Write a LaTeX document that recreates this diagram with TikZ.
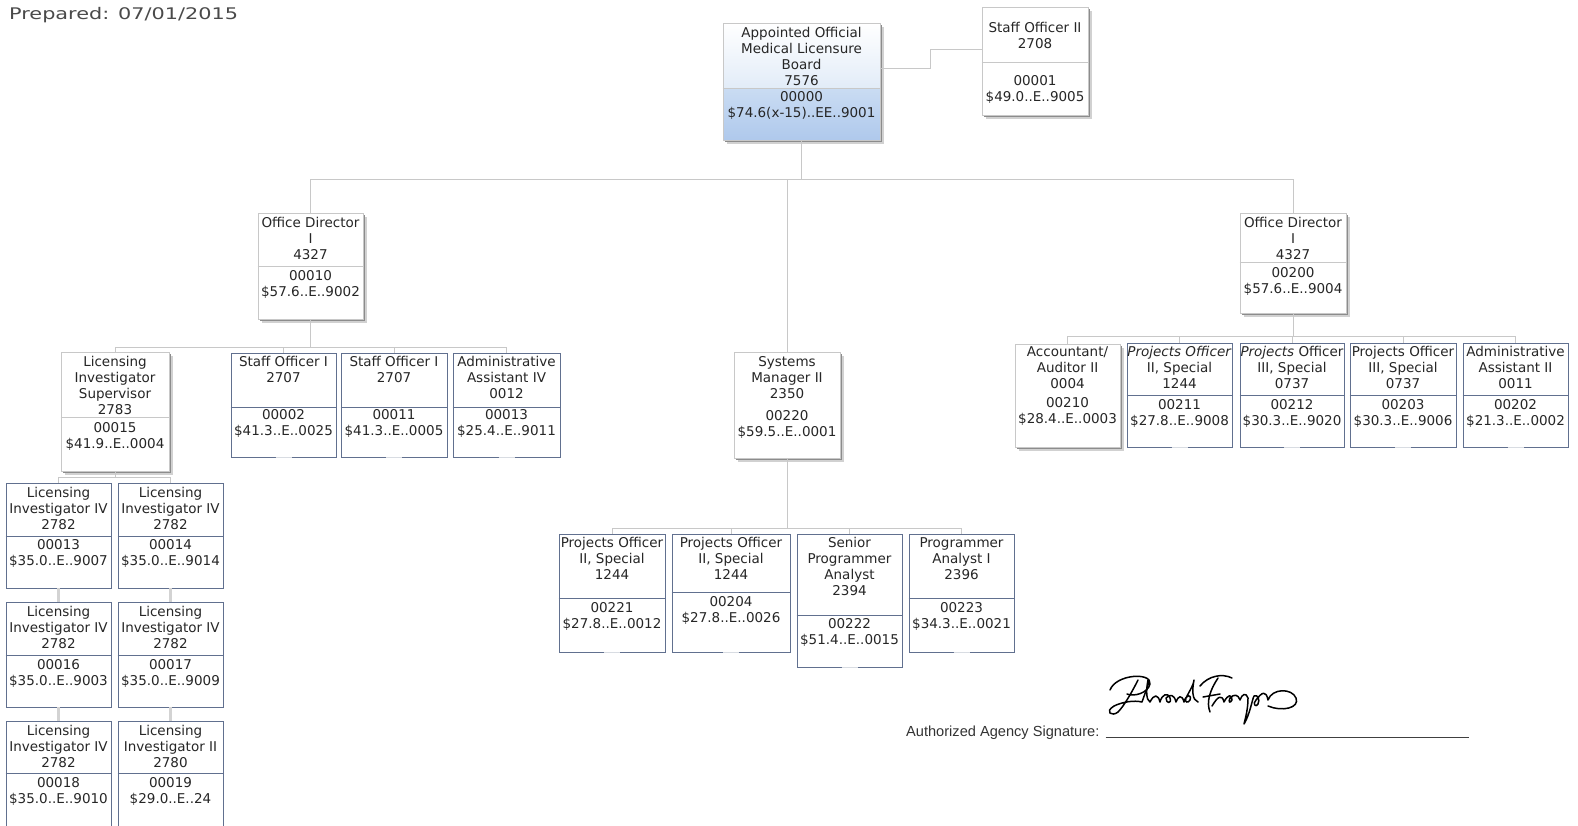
\documentclass[tikz,border=0pt]{standalone}
\usepackage{fontspec}
\setmainfont{DejaVu Sans}
\newfontfamily\sigfont{Liberation Sans}
\usepackage{graphicx}
\usetikzlibrary{calc}
\definecolor{leafc}{HTML}{61708F}
\definecolor{lineg}{HTML}{C8C8C8}
\definecolor{stubc}{HTML}{D8DCE2}
\definecolor{txtc}{HTML}{262626}
\definecolor{prepc}{HTML}{4A4A4A}
\definecolor{blueA}{HTML}{E2ECF8}
\definecolor{blueB}{HTML}{CADCF3}
\definecolor{blueC}{HTML}{AFC9EC}
\tikzset{
  conn/.style={draw=lineg, line width=1pt},
  rowc/.style={draw=lineg!80, line width=3.5pt},
  leaf/.style={draw=leafc, line width=0.9pt, fill=white, inner sep=0pt, rectangle},
  sbox/.style={draw=lineg, line width=0.9pt, fill=white, inner sep=0pt, rectangle},
  tbox/.style={draw=lineg, line width=0.9pt, inner sep=0pt, rectangle},
  divleaf/.style={draw=leafc, line width=0.9pt},
  divs/.style={draw=lineg, line width=0.9pt},
  stubst/.style={draw=stubc, line width=1.8pt},
  txt/.style={font=\fontsize{13.5}{15.8}\selectfont, align=center, inner sep=0pt, text=txtc},
  signpen/.style={draw=black, line width=1.5pt, line cap=round, line join=round}
}
\newcommand\mkbox[6]{%
  \pgfmathsetmacro\bcx{(#3+#5)/2}\pgfmathsetmacro\bcy{(#4+#6)/2}%
  \pgfmathsetmacro\bw{#5-#3}\pgfmathsetmacro\bh{#6-#4}%
  \node[#1,minimum width=\bw pt,minimum height=\bh pt] (#2) at (\bcx,\bcy) {};}
\newcommand\mkshadow[4]{%
  \fill[black!18] (#1+3.5,#2+3.5) rectangle (#3+3.5,#4+3.5);
  \fill[black!45] (#1+2,#2+2) rectangle (#3+2,#4+2);}
\newcommand\dvd[3]{\draw[#1] (#2.west |- 0,#3) -- (#2.east |- 0,#3);}
\newcommand\ttx[3]{\pgfmathsetmacro\tty{#2-6.3}\node[txt,anchor=north] (#1-t) at (#1.center |- 0,\tty) {\strut #3};}
\newcommand\btx[3]{\pgfmathsetmacro\tty{#2-6.3}\node[txt,anchor=north] (#1-b) at (#1.center |- 0,\tty) {\strut #3};}
\newcommand\stub[1]{\draw[stubst] ([xshift=-8pt]#1.south) -- ([xshift=8pt]#1.south);}
\begin{document}
\begin{tikzpicture}[x=1pt,y=-1pt]
\useasboundingbox (0,0) rectangle (1578,825);
\clip (0,0) rectangle (1578,825);
\fill[white] (0,0) rectangle (1578,825);

% ---------- boxes ----------
\mkshadow{723}{23}{880}{140}
\shade[top color=white, bottom color=blueA] (723,23) rectangle (880,88);
\shade[top color=blueB, bottom color=blueC] (723,88) rectangle (880,140);
\mkbox{tbox}{top}{723}{23}{880}{140}
\dvd{divs}{top}{88}
\ttx{top}{33}{Appointed Official\\Medical Licensure\\Board\\7576}
\btx{top}{97}{00000\\\$74.6(x-15)..EE..9001}

\mkshadow{982}{7}{1088}{115}
\mkbox{sbox}{so2}{982}{7}{1088}{115}
\dvd{divs}{so2}{62}
\ttx{so2}{28}{Staff Officer II\\2708}
\btx{so2}{81}{00001\\\$49.0..E..9005}

\mkshadow{258}{213}{363}{319}
\mkbox{sbox}{odl}{258}{213}{363}{319}
\dvd{divs}{odl}{266}
\ttx{odl}{223}{Office Director\\I\\4327}
\btx{odl}{276}{00010\\\$57.6..E..9002}

\mkshadow{1240}{213}{1346}{313}
\mkbox{sbox}{odr}{1240}{213}{1346}{313}
\dvd{divs}{odr}{262}
\ttx{odr}{223}{Office Director\\I\\4327}
\btx{odr}{273}{00200\\\$57.6..E..9004}

\mkshadow{61}{352}{169}{471}
\mkbox{sbox}{lis}{61}{352}{169}{471}
\dvd{divs}{lis}{417}
\ttx{lis}{362}{Licensing\\Investigator\\Supervisor\\2783}
\btx{lis}{428}{00015\\\$41.9..E..0004}

\mkshadow{734}{352}{840}{458}
\mkbox{sbox}{sm}{734}{352}{840}{458}
\ttx{sm}{362}{Systems\\Manager II\\2350}
\btx{sm}{416}{00220\\\$59.5..E..0001}

\mkshadow{1015}{344}{1120}{447}
\mkbox{sbox}{acc}{1015}{344}{1120}{447}
\ttx{acc}{352}{Accountant/\\Auditor II\\0004}
\btx{acc}{403}{00210\\\$28.4..E..0003}

% ---------- connectors ----------
\coordinate (b1) at (0,179);
\draw[conn] (top.south) -- (top.south |- b1);
\draw[conn] (odl.north) -- (odl.north |- b1) -- (odr.north |- b1) -- (odr.north);
\draw[conn] (sm.north) -- (sm.north |- b1);
\draw[conn] (top.east |- 0,68) -| (930,49) -- (so2.west |- 0,49);

\coordinate (b2) at (0,347);
\coordinate (b3) at (0,477);
\coordinate (b4) at (0,528);
\coordinate (b5) at (0,336);

% leaf boxes
\mkbox{leaf}{so1a}{231}{353}{336}{457}
\mkbox{leaf}{so1b}{341}{353}{447}{457}
\mkbox{leaf}{adm4}{453}{353}{560}{457}
\mkbox{leaf}{li1}{6}{483}{111}{588}
\mkbox{leaf}{li2}{118}{483}{223}{588}
\mkbox{leaf}{li3}{6}{602}{111}{707}
\mkbox{leaf}{li4}{118}{602}{223}{707}
\mkbox{leaf}{li5}{6}{721}{111}{826}
\mkbox{leaf}{li6}{118}{721}{223}{826}
\mkbox{leaf}{po1}{559}{534}{665}{652}
\mkbox{leaf}{po2}{672}{534}{790}{652}
\mkbox{leaf}{spa}{797}{534}{902}{667}
\mkbox{leaf}{pa1}{909}{534}{1014}{652}
\mkbox{leaf}{po3}{1127}{343}{1232}{447}
\mkbox{leaf}{po4}{1240}{343}{1344}{447}
\mkbox{leaf}{po5}{1350}{343}{1456}{447}
\mkbox{leaf}{adm2}{1463}{343}{1568}{447}

\draw[conn] (odl.south) -- (odl.south |- b2);
\draw[conn] (lis.north) -- (lis.north |- b2) -- (adm4.north |- b2) -- (adm4.north);
\draw[conn] (so1a.north) -- (so1a.north |- b2);
\draw[conn] (so1b.north) -- (so1b.north |- b2);

\draw[conn] (lis.south) -- (lis.south |- b3);
\draw[conn] (li1.north) -- (li1.north |- b3) -- (li2.north |- b3) -- (li2.north);
\draw[rowc] (li1.south) -- (li3.north);
\draw[rowc] (li2.south) -- (li4.north);
\draw[rowc] (li3.south) -- (li5.north);
\draw[rowc] (li4.south) -- (li6.north);

\draw[conn] (sm.south) -- (sm.south |- b4);
\draw[conn] (po1.north) -- (po1.north |- b4) -- (pa1.north |- b4) -- (pa1.north);
\draw[conn] (po2.north) -- (po2.north |- b4);
\draw[conn] (spa.north) -- (spa.north |- b4);

\draw[conn] (odr.south) -- (odr.south |- b5);
\draw[conn] (acc.north) -- (acc.north |- b5) -- (adm2.north |- b5) -- (adm2.north);
\draw[conn] (po3.north) -- (po3.north |- b5);
\draw[conn] (po4.north) -- (po4.north |- b5);
\draw[conn] (po5.north) -- (po5.north |- b5);

% dividers, stubs and texts of leaf boxes
\dvd{divleaf}{so1a}{407}\dvd{divleaf}{so1b}{407}\dvd{divleaf}{adm4}{407}
\dvd{divleaf}{li1}{536}\dvd{divleaf}{li2}{536}
\dvd{divleaf}{li3}{655}\dvd{divleaf}{li4}{655}
\dvd{divleaf}{li5}{773}\dvd{divleaf}{li6}{773}
\dvd{divleaf}{po1}{598}\dvd{divleaf}{po2}{592}\dvd{divleaf}{spa}{615}\dvd{divleaf}{pa1}{598}
\dvd{divleaf}{po3}{395}\dvd{divleaf}{po4}{395}\dvd{divleaf}{po5}{395}\dvd{divleaf}{adm2}{395}
\stub{so1a}\stub{so1b}\stub{adm4}\stub{po1}\stub{po2}\stub{spa}\stub{pa1}
\stub{po3}\stub{po4}\stub{po5}\stub{adm2}

\ttx{so1a}{362}{Staff Officer I\\2707}
\btx{so1a}{415}{00002\\\$41.3..E..0025}
\ttx{so1b}{362}{Staff Officer I\\2707}
\btx{so1b}{415}{00011\\\$41.3..E..0005}
\ttx{adm4}{362}{Administrative\\Assistant IV\\0012}
\btx{adm4}{415}{00013\\\$25.4..E..9011}

\ttx{li1}{493}{Licensing\\Investigator IV\\2782}
\btx{li1}{545}{00013\\\$35.0..E..9007}
\ttx{li2}{493}{Licensing\\Investigator IV\\2782}
\btx{li2}{545}{00014\\\$35.0..E..9014}
\ttx{li3}{612}{Licensing\\Investigator IV\\2782}
\btx{li3}{665}{00016\\\$35.0..E..9003}
\ttx{li4}{612}{Licensing\\Investigator IV\\2782}
\btx{li4}{665}{00017\\\$35.0..E..9009}
\ttx{li5}{731}{Licensing\\Investigator IV\\2782}
\btx{li5}{783}{00018\\\$35.0..E..9010}
\ttx{li6}{731}{Licensing\\Investigator II\\2780}
\btx{li6}{783}{00019\\\$29.0..E..24}

\ttx{po1}{543}{Projects Officer\\II, Special\\1244}
\btx{po1}{608}{00221\\\$27.8..E..0012}
\ttx{po2}{543}{Projects Officer\\II, Special\\1244}
\btx{po2}{602}{00204\\\$27.8..E..0026}
\ttx{spa}{543}{Senior\\Programmer\\Analyst\\2394}
\btx{spa}{624}{00222\\\$51.4..E..0015}
\ttx{pa1}{543}{Programmer\\Analyst I\\2396}
\btx{pa1}{608}{00223\\\$34.3..E..0021}

\ttx{po3}{352}{\textit{Projects Officer}\\II, Special\\1244}
\btx{po3}{405}{00211\\\$27.8..E..9008}
\ttx{po4}{352}{\textit{Projects} Officer\\III, Special\\0737}
\btx{po4}{405}{00212\\\$30.3..E..9020}
\ttx{po5}{352}{Projects Officer\\III, Special\\0737}
\btx{po5}{405}{00203\\\$30.3..E..9006}
\ttx{adm2}{352}{Administrative\\Assistant II\\0011}
\btx{adm2}{405}{00202\\\$21.3..E..0002}

% ---------- header ----------
\node[anchor=base west, inner sep=0pt, text=prepc, font=\fontsize{16}{19}\selectfont] (prep) at (9,19.8) {\scalebox{1.3}[1]{Prepared: 07/01/2015}};

% ---------- signature ----------
\node[anchor=base west, inner sep=0pt, text=black!80, font=\sigfont\fontsize{14.6}{17}\selectfont] (sig) at (906,736) {Authorized Agency Signature:};
\coordinate (ulend) at (1469,737);
\draw[black!75, line width=0.9pt] ([xshift=6pt,yshift=-1pt]sig.base east) -- (ulend);
\draw[signpen] (1110,690) .. controls (1116,674) and (1152,672) .. (1150,684) .. controls (1148,693) and (1134,697) .. (1127,694);
\draw[signpen] (1138,680) .. controls (1132,692) and (1124,706) .. (1118,712) .. controls (1112,717) and (1104,712) .. (1114,706) .. controls (1122,702) and (1134,700) .. (1142,702)
  .. controls (1146,690) and (1150,682) .. (1148,680) .. controls (1146,690) and (1146,700) .. (1150,702)
  .. controls (1154,694) and (1158,694) .. (1160,702) .. controls (1162,694) and (1168,692) .. (1170,698)
  .. controls (1172,704) and (1166,704) .. (1166,698) .. controls (1170,694) and (1174,694) .. (1176,702)
  .. controls (1178,696) and (1182,694) .. (1184,702) .. controls (1186,694) and (1192,694) .. (1190,700)
  .. controls (1188,704) and (1184,702) .. (1186,698) .. controls (1190,690) and (1194,684) .. (1194,680)
  .. controls (1192,690) and (1192,700) .. (1198,702);
\draw[signpen] (1200,686) .. controls (1208,676) and (1222,673) .. (1232,678);
\draw[signpen] (1218,678) .. controls (1210,690) and (1206,702) .. (1210,712);
\draw[signpen] (1203,697) -- (1220,694);
\draw[signpen] (1212,706) .. controls (1218,696) and (1222,694) .. (1224,702) .. controls (1228,694) and (1232,694) .. (1232,700)
  .. controls (1230,704) and (1228,702) .. (1230,698) .. controls (1234,694) and (1238,694) .. (1240,700)
  .. controls (1242,694) and (1246,692) .. (1248,698) .. controls (1248,708) and (1246,716) .. (1244,724)
  .. controls (1250,714) and (1252,700) .. (1254,696) .. controls (1258,694) and (1260,700) .. (1258,704)
  .. controls (1256,708) and (1252,704) .. (1256,700) .. controls (1262,692) and (1266,690) .. (1268,700)
  .. controls (1272,688) and (1292,688) .. (1296,698) .. controls (1300,708) and (1282,712) .. (1268,706);
\end{tikzpicture}
\end{document}
